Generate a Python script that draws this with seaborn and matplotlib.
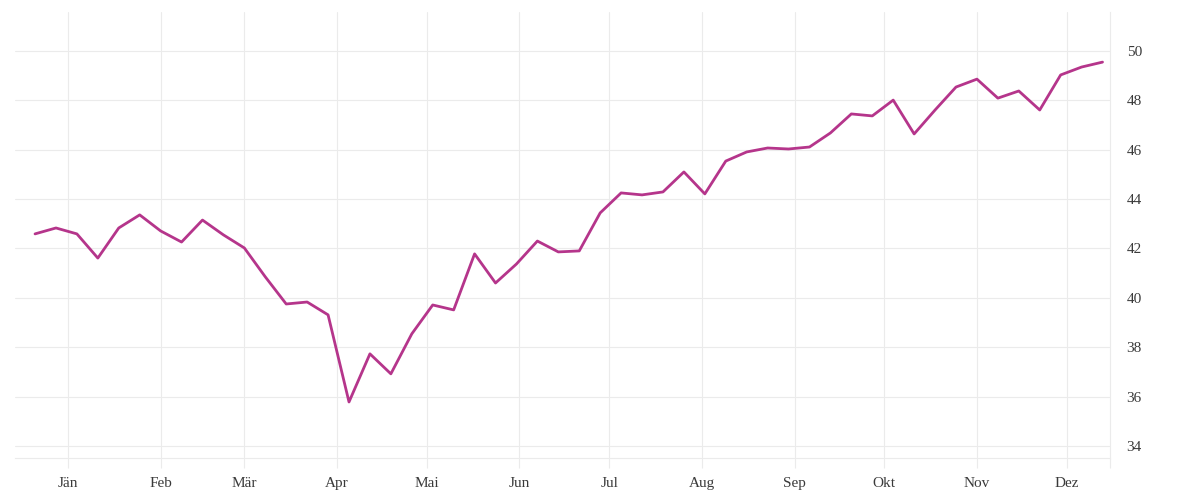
import matplotlib
matplotlib.use("Agg")
import matplotlib.pyplot as plt
import seaborn as sns
import pandas as pd
import numpy as np

# ---- data ----
start_date = "2021-01-04"
n_weeks = 52
values = [42.59, 42.83, 42.59, 41.61, 42.83, 43.36, 42.71, 42.26, 43.15, 42.55,
          42.02, 40.85, 39.75, 39.83, 39.31, 35.78, 37.73, 36.92, 38.54, 39.71,
          39.51, 41.78, 40.60, 41.37, 42.30, 41.86, 41.90, 43.44, 44.25, 44.17,
          44.29, 45.10, 44.21, 45.54, 45.91, 46.07, 46.03, 46.11, 46.68, 47.45,
          47.37, 48.01, 46.64, 47.61, 48.54, 48.86, 48.09, 48.38, 47.61, 49.03,
          49.35, 49.55]
month_labels = ["Jän", "Feb", "Mär", "Apr", "Mai", "Jun", "Jul", "Aug", "Sep", "Okt", "Nov", "Dez"]
y_ticks = [34, 36, 38, 40, 42, 44, 46, 48, 50]

dates = pd.date_range(start_date, periods=n_weeks, freq="7D")
df = pd.DataFrame({"date": dates, "value": values})
month_ticks = [pd.Timestamp(2021, m, 15) for m in range(1, 13)]

# ---- style ----
sns.set_theme(style="white")
plt.rcParams["font.family"] = ["Liberation Serif", "DejaVu Serif"]
text_color = "#3a3a3a"
grid_color = "#ebebeb"
line_color = "#b5358b"

fig = plt.figure(figsize=(12, 5), dpi=100)
ax = fig.add_axes([0.0125, 0.084, 0.9125, 0.892])

sns.lineplot(data=df, x="date", y="value", ax=ax, color=line_color, linewidth=2.0)

x_left = dates[0] - pd.Timedelta(days=6.7)
x_right = dates[-1] + pd.Timedelta(days=2.5)
ax.set_xlim(x_left, x_right)
ax.set_ylim(33.51, 51.58)

ax.set_xticks(month_ticks)
ax.set_xticklabels(month_labels)
ax.set_xticks([x_right], minor=True)
ax.set_yticks(y_ticks)
ax.set_yticklabels([str(t) for t in y_ticks])

ax.yaxis.tick_right()
ax.tick_params(axis="y", length=0, pad=12, labelsize=11, labelcolor=text_color)
ax.tick_params(axis="x", which="both", bottom=True, length=7.2, width=0.8,
               color=grid_color, pad=6.5, labelsize=11, labelcolor=text_color)

ax.grid(True, which="major", color=grid_color, linewidth=0.8)
ax.set_axisbelow(True)

for side in ["left", "top"]:
    ax.spines[side].set_visible(False)
for side in ["right", "bottom"]:
    ax.spines[side].set_visible(True)
    ax.spines[side].set_color(grid_color)
    ax.spines[side].set_linewidth(0.8)

ax.set_xlabel("")
ax.set_ylabel("")

fig.savefig("out.png", dpi=100, facecolor="white")
